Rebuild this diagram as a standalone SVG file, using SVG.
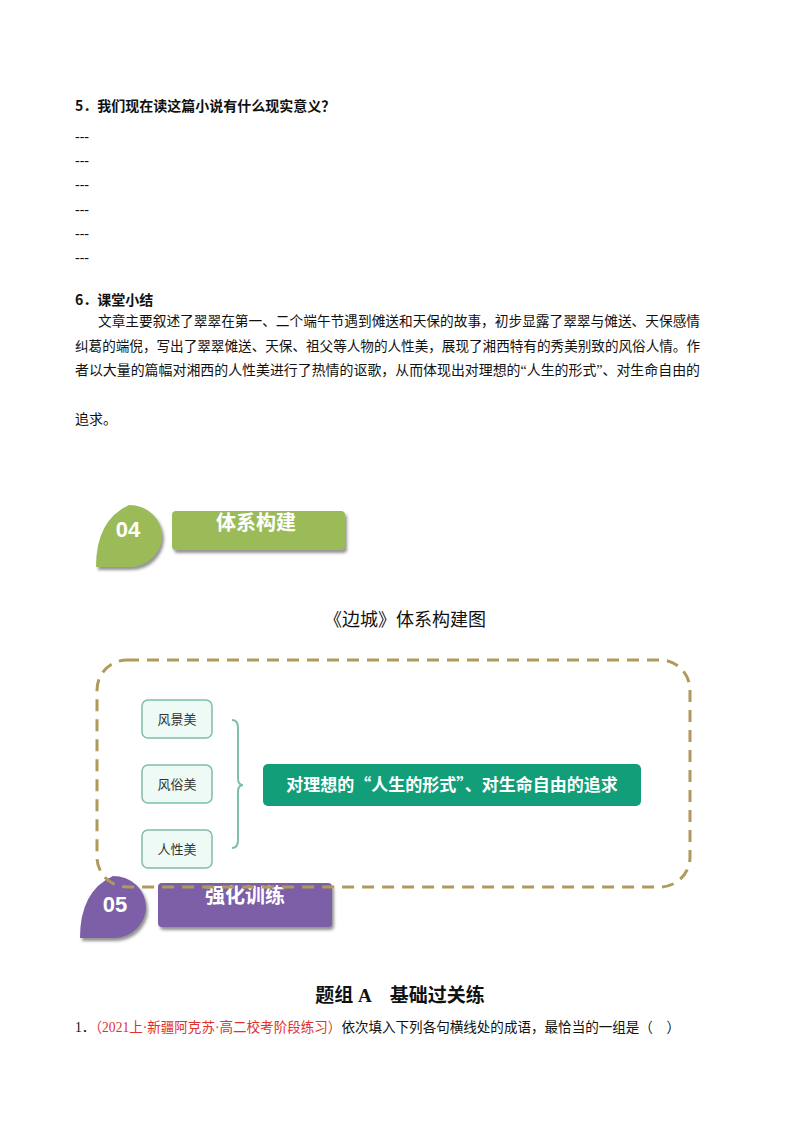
<svg xmlns="http://www.w3.org/2000/svg" width="800" height="1132" viewBox="0 0 800 1132">
<style>
.s{font-family:"Liberation Serif","Noto Sans CJK SC",serif;font-size:14px;fill:#111}
.b{font-weight:bold}
.n{font-family:"Noto Sans CJK SC",sans-serif}
.sm{font-family:"Noto Sans CJK SC",sans-serif;font-size:13px;fill:#333;text-anchor:middle}
.sb{stroke:#7fbfa5;stroke-width:1.5}
</style>
<defs>
<filter id="sh" x="-10%" y="-10%" width="130%" height="140%"><feDropShadow dx="2" dy="3" stdDeviation="1.5" flood-color="#777" flood-opacity="0.8"/></filter>
</defs>
<rect width="800" height="1132" fill="#fff"/>
<text class="s b n" x="75" y="111">5．我们现在读这篇小说有什么现实意义？</text>
<g class="s"><text x="75" y="141">---</text><text x="75" y="165">---</text><text x="75" y="189">---</text><text x="75" y="214">---</text><text x="75" y="238">---</text><text x="75" y="262">---</text></g>
<text class="s b n" x="75" y="305">6．课堂小结</text>
<g class="s">
<text x="98" y="326" textLength="602" lengthAdjust="spacingAndGlyphs">文章主要叙述了翠翠在第一、二个端午节遇到傩送和天保的故事，初步显露了翠翠与傩送、天保感情</text>
<text x="75" y="351" textLength="625" lengthAdjust="spacingAndGlyphs">纠葛的端倪，写出了翠翠傩送、天保、祖父等人物的人性美，展现了湘西特有的秀美别致的风俗人情。作</text>
<text x="75" y="375" textLength="625" lengthAdjust="spacingAndGlyphs">者以大量的篇幅对湘西的人性美进行了热情的讴歌，从而体现出对理想的“人生的形式”、对生命自由的</text>
<text x="75" y="424">追求。</text>
</g>
<g id="banner04">
<path d="M129,505 A33,31 0 1 1 129,567 L96,567 Q96,520 129,505 Z" fill="#9bbb59" filter="url(#sh)"/>
<text x="128" y="537" font-family="Liberation Sans,sans-serif" font-weight="bold" font-size="22" fill="#fff" text-anchor="middle">04</text>
<rect x="172" y="511" width="173" height="39" rx="4" fill="#9bbb59" filter="url(#sh)"/>
<text x="256" y="530" class="n" font-weight="bold" font-size="20" fill="#fff" text-anchor="middle">体系构建</text>
</g>
<text x="405" y="626" class="n" font-size="18" fill="#111" text-anchor="middle">《边城》体系构建图</text>
<g id="banner05">
<path d="M113,876 A33,31 0 1 1 113,938 L80,938 Q80,891 113,876 Z" fill="#7b5ea7" filter="url(#sh)"/>
<text x="115" y="912" font-family="Liberation Sans,sans-serif" font-weight="bold" font-size="22" fill="#fff" text-anchor="middle">05</text>
<rect x="158" y="883" width="174" height="44" rx="4" fill="#7b5ea7" filter="url(#sh)"/>
<text x="245" y="903" class="n" font-weight="bold" font-size="20" fill="#fff" text-anchor="middle">强化训练</text>
</g>
<g id="frame"><rect x="97" y="660" width="593" height="227" rx="30" fill="none" stroke="#b09a5a" stroke-width="3" stroke-dasharray="12 8"/></g>
<g id="n1"><rect class="sb" x="142" y="700" width="70" height="38" rx="6" fill="#eefaf6"/><text class="sm" x="177" y="724">风景美</text></g>
<g id="n2"><rect class="sb" x="142" y="765" width="70" height="38" rx="6" fill="#eefaf6"/><text class="sm" x="177" y="789">风俗美</text></g>
<g id="n3"><rect class="sb" x="142" y="830" width="70" height="38" rx="6" fill="#eefaf6"/><text class="sm" x="177" y="854">人性美</text></g>
<g id="connectors"><path d="M232,720 Q238,720 238,728 L238,778 Q238,785 243,785 Q238,785 238,792 L238,840 Q238,848 232,848" fill="none" stroke="#7fbfa5" stroke-width="2"/></g>
<g id="main"><rect x="263" y="764" width="378" height="42" rx="5" fill="#129e79"/><text x="452" y="791" class="n" font-size="17" font-weight="bold" fill="#fff" text-anchor="middle">对理想的“人生的形式”、对生命自由的追求</text></g>
<text x="400" y="1002" class="s b" style="font-size:19px" text-anchor="middle">题组 A　基础过关练</text>
<text class="s" x="75" y="1032" textLength="605" lengthAdjust="spacingAndGlyphs">1．<tspan fill="#e03030">（2021上·新疆阿克苏·高二校考阶段练习）</tspan>依次填入下列各句横线处的成语，最恰当的一组是（　）</text>
</svg>
